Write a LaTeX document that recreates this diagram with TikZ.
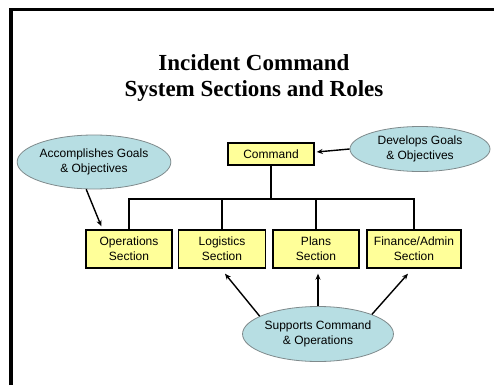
\documentclass[tikz,border=0pt]{standalone}
\usepackage{fontspec}
\setmainfont{Liberation Serif}
\newfontfamily\arialf{Liberation Sans}
\usetikzlibrary{shapes.geometric,arrows.meta,calc}
\definecolor{boxyellow}{HTML}{FFFF99}
\definecolor{bubble}{HTML}{B7DEE3}
\definecolor{bubbleedge}{HTML}{7F8A8C}
\begin{document}
\begin{tikzpicture}[x=1pt,y=-1pt,
  sect/.style={draw=black,line width=1.4pt,fill=boxyellow,inner sep=0pt,minimum height=38pt,align=center,font=\arialf\fontsize{12}{15}\selectfont},
  bub/.style={ellipse,draw=bubbleedge,line width=0.8pt,fill=bubble,inner sep=0pt,minimum width=140pt,align=center,font=\arialf\fontsize{12}{15}\selectfont},
  arr/.style={line width=1.4pt,-{Stealth[length=6pt,width=5pt]}},
  tree/.style={line width=1.5pt}]
\useasboundingbox (0,0) rectangle (494,385);
\fill[white] (0,0) rectangle (494,385);
% frame
\draw[line width=3.5pt] (11,385) -- (11,9.5) -- (494,9.5);
% title
\node[align=center,font=\bfseries\fontsize{23}{26}\selectfont] (title) at (254,78) {Incident Command\\System Sections and Roles};
% command
\node[sect,minimum width=86pt,minimum height=22pt] (cmd) at (271,154) {Command};
% sections
\node[sect,minimum width=86pt] (ops) at (129,249) {Operations\\Section};
\node[sect,minimum width=87pt] (log) at (222,249) {Logistics\\Section};
\node[sect,minimum width=86pt] (plans) at (316,249) {Plans\\Section};
\node[sect,minimum width=94pt] (fin) at (414,249) {Finance/Admin\\Section};
% bubbles
\node[bub,minimum height=45pt] (dev) at (420,149) {Develops Goals\\\& Objectives};
\node[bub,minimum height=54pt] (acc) at (94,162) {Accomplishes Goals\\\& Objectives};
\node[bub,minimum height=55pt] (sup) at (318,334) {Supports Command\\\& Operations};
% tree
\coordinate (bus) at (271,199);
\draw[tree] (cmd.south) -- (cmd.south |- bus);
\draw[tree] (ops.north) -- (ops.north |- bus) -- (fin.north |- bus) -- (fin.north);
\draw[tree] (log.north) -- (log.north |- bus);
\draw[tree] (plans.north) -- (plans.north |- bus);
% arrows
\draw[arr] (dev.west) -- ($(cmd.east)+(2,-2)$);
\draw[arr] (acc.254) -- ($(ops.north west)+(16,-3)$);
\draw[arr] (sup.163) -- ($(log.south)+(3,5)$);
\draw[arr] (sup.north) -- (sup.north |- {$(plans.south)+(0,5)$});
\draw[arr] (sup.20) -- ($(fin.south)+(-6,5)$);
\end{tikzpicture}
\end{document}
